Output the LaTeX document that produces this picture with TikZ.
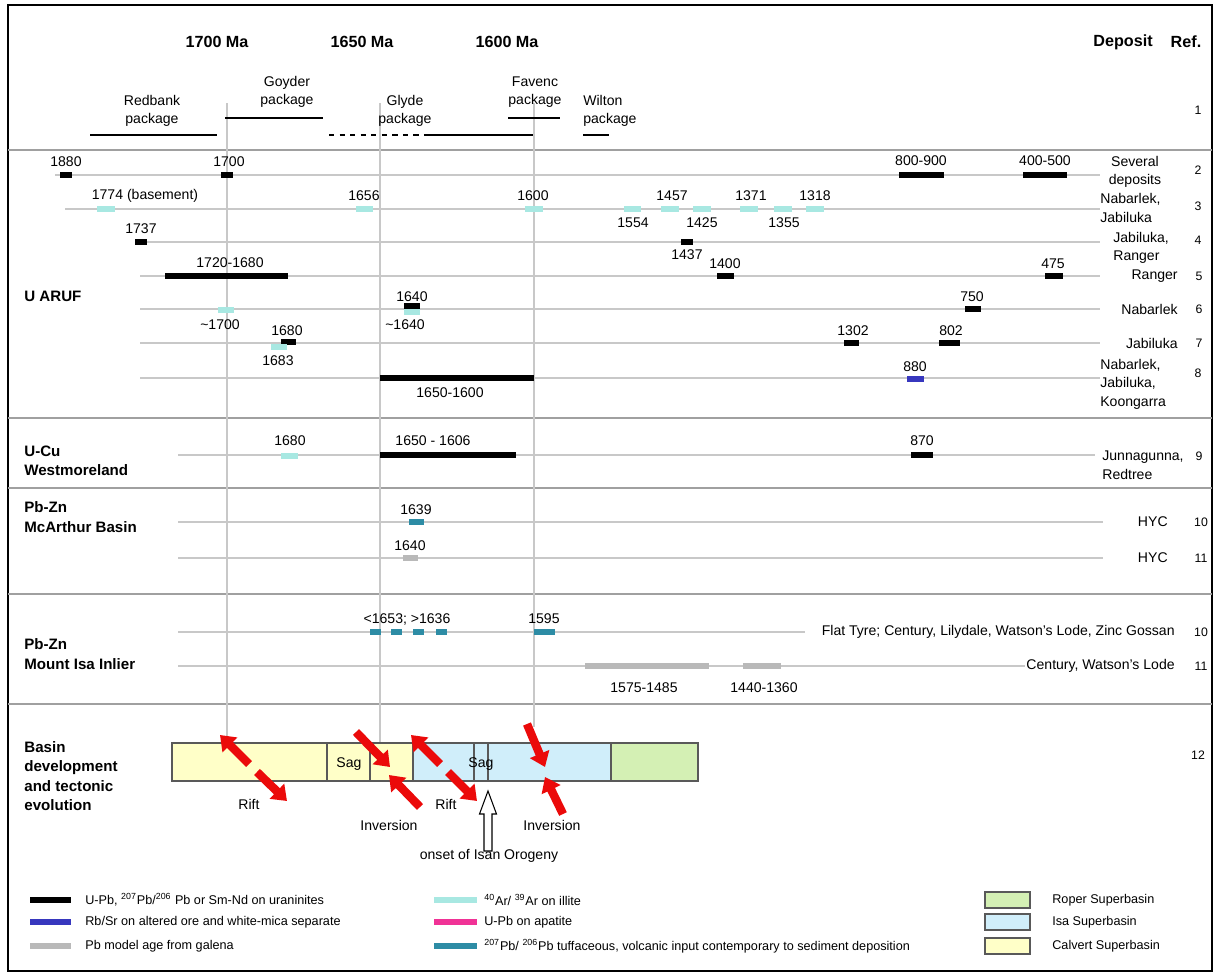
\documentclass[tikz,border=0pt]{standalone}
\usepackage{fontspec}
\setmainfont{Liberation Sans}
\usepackage{tikz}
\usetikzlibrary{arrows.meta}

\definecolor{illitecyan}{RGB}{168, 232, 226}
\definecolor{rbsrblue}{RGB}{55, 55, 190}
\definecolor{galenagray}{RGB}{185, 185, 185}
\definecolor{apatitepink}{RGB}{240, 50, 150}
\definecolor{tuffteal}{RGB}{45, 140, 165}
\definecolor{calvertyellow}{RGB}{255, 255, 200}
\definecolor{isablue}{RGB}{208, 238, 250}
\definecolor{ropergreen}{RGB}{212, 240, 180}
\definecolor{arrowred}{RGB}{235, 10, 10}
\definecolor{gridgray}{RGB}{200, 200, 200}
\definecolor{sepgray}{RGB}{160, 160, 160}

\newcommand{\chartlab}{\fontsize{8}{10.6}\selectfont}
\newcommand{\charthead}{\bfseries\fontsize{9.2}{11}\selectfont}
\newcommand{\chartsect}{\bfseries\fontsize{8.6}{11}\selectfont}
\newcommand{\chartref}{\fontsize{7}{8}\selectfont}
\newcommand{\chartleg}{\fontsize{7.2}{8.6}\selectfont}

\tikzset{
  agebar/.style={line width=3.3pt},
  rowline/.style={draw=gridgray, line width=0.6pt},
  sepline/.style={draw=sepgray, line width=1.4pt},
  timeline/.style={draw=gridgray, line width=0.6pt},
  pkgline/.style={draw=black, line width=1.1pt},
  datelab/.style={font=\chartlab, inner sep=0pt},
  headlab/.style={font=\charthead, inner sep=0pt},
  sectlab/.style={font=\chartsect, inner sep=0pt, anchor=west, align=left},
  reflab/.style={font=\chartref, inner sep=0pt},
  leglab/.style={font=\chartleg, inner sep=0pt, anchor=west},
  redarrow/.style={draw=arrowred, line width=4.8pt, -{Triangle[width=11.5pt,length=8pt]}},
  basinbox/.style={draw=black!65, line width=0.6pt},
}

\begin{document}
\begin{tikzpicture}[x=0.02cm, y=-0.02cm]
  \useasboundingbox (0,0) rectangle (1215,974);

  % Frame and section separators
  \draw[line width=1.1pt] (8,5) rectangle (1212,971);
  \draw[sepline] (8,150) -- (1212,150);
  \draw[sepline] (8,418) -- (1212,418);
  \draw[sepline] (8,488) -- (1212,488);
  \draw[sepline] (8,594) -- (1212,594);
  \draw[sepline] (8,704) -- (1212,704);

  % Time lines
  \draw[timeline] (227,103) -- (227,737);
  \draw[timeline] (380,103) -- (380,744);
  \draw[timeline] (534,103) -- (534,727);

  % Header
  \node[headlab] (ma1700) at (217,42) {1700 Ma};
  \node[headlab] (ma1650) at (362,42) {1650 Ma};
  \node[headlab] (ma1600) at (507,42) {1600 Ma};
  \node[headlab] (deposit) at (1123,42) {Deposit};
  \node[headlab] (ref) at (1186,42) {Ref.};

  % Packages
  \node[datelab, align=center] (redbank) at (152,111) {Redbank\\package};
  \draw[pkgline] (90,135) -- (217,135);
  \node[datelab, align=center] (goyder) at (287,92) {Goyder\\package};
  \draw[pkgline] (225,118) -- (323,118);
  \node[datelab, align=center] (glyde) at (405,111) {Glyde\\package};
  \draw[pkgline, dashed] (329,135) -- (425,135);
  \draw[pkgline] (425,135) -- (533,135);
  \node[datelab, align=center] (favenc) at (535,92) {Favenc\\package};
  \draw[pkgline] (508,118) -- (560,118);
  \node[datelab, align=left, anchor=west] (wilton) at (583,111) {Wilton\\package};
  \draw[pkgline] (583,135) -- (609,135);
  \node[reflab] (ref1) at (1198,110) {1};

  % U ARUF
  \node[sectlab] (uaruf) at (24,296) {U ARUF};

  % Row 2
  \draw[rowline] (55,175) -- (1100,175);
  \draw[agebar] (60,175) -- (72,175);
  \draw[agebar] (221,175) -- (233,175);
  \draw[agebar] (899,175) -- (944,175);
  \draw[agebar] (1023,175) -- (1067,175);
  \node[datelab] (d1880) at (66,162) {1880};
  \node[datelab] (d1700a) at (229,162) {1700};
  \node[datelab] (d800) at (921,161) {800-900};
  \node[datelab] (d400) at (1045,161) {400-500};
  \node[datelab, align=center] (several) at (1135,172) {Several\\deposits};
  \node[reflab] (ref2) at (1198,170) {2};

  % Row 3
  \draw[rowline] (65,209) -- (1100,209);
  \draw[agebar, illitecyan] (97,209) -- (115,209);
  \draw[agebar, illitecyan] (356,209) -- (373,209);
  \draw[agebar, illitecyan] (525,209) -- (543,209);
  \draw[agebar, illitecyan] (624,209) -- (641,209);
  \draw[agebar, illitecyan] (661,209) -- (679,209);
  \draw[agebar, illitecyan] (693,209) -- (711,209);
  \draw[agebar, illitecyan] (740,209) -- (758,209);
  \draw[agebar, illitecyan] (774,209) -- (792,209);
  \draw[agebar, illitecyan] (806,209) -- (824,209);
  \node[datelab] (d1774) at (145,196) {1774 (basement)};
  \node[datelab] (d1656) at (364,196) {1656};
  \node[datelab] (d1600) at (533,196) {1600};
  \node[datelab] (d1554) at (633,223) {1554};
  \node[datelab] (d1457) at (672,196) {1457};
  \node[datelab] (d1425) at (702,223) {1425};
  \node[datelab] (d1371) at (751,196) {1371};
  \node[datelab] (d1355) at (784,223) {1355};
  \node[datelab] (d1318) at (815,196) {1318};
  \node[datelab, align=left, anchor=west] (nabjab) at (1100,208) {Nabarlek,\\Jabiluka};
  \node[reflab] (ref3) at (1198,206) {3};

  % Row 4
  \draw[rowline] (135,242) -- (1100,242);
  \draw[agebar] (135,242) -- (147,242);
  \draw[agebar] (681,242) -- (693,242);
  \node[datelab] (d1737) at (141,229) {1737};
  \node[datelab] (d1437) at (687,255) {1437};
  \node[datelab, align=left, anchor=west] (jabran) at (1113,248) {Jabiluka,\\Ranger};
  \node[reflab] (ref4) at (1198,240) {4};

  % Row 5
  \draw[rowline] (140,276) -- (1100,276);
  \draw[agebar] (165,276) -- (288,276);
  \draw[agebar] (717,276) -- (734,276);
  \draw[agebar] (1045,276) -- (1063,276);
  \node[datelab] (d1720) at (230,263) {1720-1680};
  \node[datelab] (d1400) at (725,264) {1400};
  \node[datelab] (d475) at (1053,264) {475};
  \node[datelab, anchor=east] (ranger) at (1178,276) {Ranger};
  \node[reflab] (ref5) at (1199,276) {5};

  % Row 6
  \draw[rowline] (140,309) -- (1100,309);
  \draw[agebar, illitecyan] (218,310) -- (234,310);
  \draw[agebar] (404,306) -- (420,306);
  \draw[agebar, illitecyan] (404,312) -- (420,312);
  \draw[agebar] (965,309) -- (981,309);
  \node[datelab] (d1700b) at (220,325) {\textasciitilde1700};
  \node[datelab] (d1640a) at (412,297) {1640};
  \node[datelab] (d1640b) at (405,325) {\textasciitilde1640};
  \node[datelab] (d750) at (972,297) {750};
  \node[datelab, anchor=east] (nab6) at (1178,309) {Nabarlek};
  \node[reflab] (ref6) at (1199,309) {6};

  % Row 7
  \draw[rowline] (140,343) -- (1100,343);
  \draw[agebar] (281,342) -- (296,342);
  \draw[agebar, illitecyan] (271,347) -- (287,347);
  \draw[agebar] (844,343) -- (859,343);
  \draw[agebar] (939,343) -- (960,343);
  \node[datelab] (d1680a) at (287,331) {1680};
  \node[datelab] (d1683) at (278,361) {1683};
  \node[datelab] (d1302) at (853,331) {1302};
  \node[datelab] (d802) at (951,331) {802};
  \node[datelab, anchor=east] (jab7) at (1178,343) {Jabiluka};
  \node[reflab] (ref7) at (1199,343) {7};

  % Row 8
  \draw[rowline] (140,378) -- (1100,378);
  \draw[agebar] (380,378) -- (534,378);
  \draw[agebar, rbsrblue] (907,379) -- (924,379);
  \node[datelab] (d1650) at (450,393) {1650-1600};
  \node[datelab] (d880) at (915,367) {880};
  \node[datelab, align=left, anchor=west] (koong) at (1100,384) {Nabarlek,\\Jabiluka,\\Koongarra};
  \node[reflab] (ref8) at (1198,373) {8};

  % U-Cu Westmoreland
  \node[sectlab] (ucu) at (24,461) {U-Cu\\Westmoreland};
  \draw[rowline] (178,455) -- (1095,455);
  \draw[agebar, illitecyan] (281,456) -- (298,456);
  \draw[agebar] (380,455) -- (516,455);
  \draw[agebar] (911,455) -- (933,455);
  \node[datelab] (d1680b) at (290,441) {1680};
  \node[datelab] (d1606) at (433,441) {1650 - 1606};
  \node[datelab] (d870) at (922,441) {870};
  \node[datelab, align=left, anchor=west] (junna) at (1102,465) {Junnagunna,\\Redtree};
  \node[reflab] (ref9) at (1199,456) {9};

  % Pb-Zn McArthur Basin
  \node[sectlab] (mcarthur) at (24,517) {Pb-Zn\\McArthur Basin};
  \draw[rowline] (178,522) -- (1103,522);
  \draw[rowline] (178,558) -- (1103,558);
  \draw[agebar, tuffteal] (409,522) -- (424,522);
  \draw[agebar, galenagray] (403,558) -- (418,558);
  \node[datelab] (d1639) at (416,510) {1639};
  \node[datelab] (d1640c) at (410,546) {1640};
  \node[datelab, anchor=east] (hyc10) at (1168,522) {HYC};
  \node[reflab] (ref10a) at (1201,522) {10};
  \node[datelab, anchor=east] (hyc11) at (1168,558) {HYC};
  \node[reflab] (ref11a) at (1201,558) {11};

  % Pb-Zn Mount Isa Inlier
  \node[sectlab] (mtisa) at (24,654) {Pb-Zn\\Mount Isa Inlier};
  \draw[rowline] (178,632) -- (805,632);
  \draw[rowline] (178,666) -- (1025,666);
  \draw[agebar, tuffteal] (370,632) -- (381,632);
  \draw[agebar, tuffteal] (391,632) -- (402,632);
  \draw[agebar, tuffteal] (413,632) -- (424,632);
  \draw[agebar, tuffteal] (436,632) -- (447,632);
  \draw[agebar, tuffteal] (534,632) -- (555,632);
  \draw[agebar, galenagray] (585,666) -- (709,666);
  \draw[agebar, galenagray] (743,666) -- (781,666);
  \node[datelab] (d1653) at (407,619) {<1653; >1636};
  \node[datelab] (d1595) at (544,619) {1595};
  \node[datelab] (d1575) at (644,688) {1575-1485};
  \node[datelab] (d1440) at (764,688) {1440-1360};
  \node[datelab, anchor=east] (flattyre) at (1175,632) {Flat Tyre; Century, Lilydale, Watson's Lode, Zinc Gossan};
  \node[reflab] (ref10b) at (1201,632) {10};
  \node[datelab, anchor=east] (century) at (1175,666) {Century, Watson's Lode};
  \node[reflab] (ref11b) at (1201,666) {11};

  % Basin development
  \node[sectlab] (basin) at (24,776) {Basin\\development\\and tectonic\\evolution};
  \draw[basinbox, fill=calvertyellow] (172,743) rectangle (413,781);
  \draw[basinbox] (327,743) -- (327,781);
  \draw[basinbox] (370,743) -- (370,781);
  \draw[basinbox, fill=isablue] (413,743) rectangle (611,781);
  \draw[basinbox] (474,743) -- (474,781);
  \draw[basinbox] (488,743) -- (488,781);
  \draw[basinbox, fill=ropergreen] (611,743) rectangle (698,781);
  \node[datelab] (sag1) at (349,764) {Sag};
  \node[datelab] (sag2) at (481,764) {Sag};
  \node[reflab] (ref12) at (1198,755) {12};

  % Arrows
  \draw[redarrow] (249,764) -- (220,735);
  \draw[redarrow] (257,772) -- (287,801);
  \draw[redarrow] (356,732) -- (390,767);
  \draw[redarrow] (420,807) -- (389,775);
  \draw[redarrow] (440,764) -- (411,735);
  \draw[redarrow] (448,772) -- (477,801);
  \draw[redarrow] (527,724) -- (545,767);
  \draw[redarrow] (563,814) -- (545,777);
  \draw[fill=white, line width=0.6pt] (488,791) -- (479.5,814) -- (484,814) -- (484,851)
    -- (492,851) -- (492,814) -- (496.5,814) -- cycle;
  \node[datelab] (rift1) at (249,804) {Rift};
  \node[datelab] (rift2) at (446,804) {Rift};
  \node[datelab] (inv1) at (389,825) {Inversion};
  \node[datelab] (inv2) at (552,825) {Inversion};
  \node[datelab] (isan) at (489,856) {onset of Isan Orogeny};

  % Legend
  \draw[agebar] (30,900) -- (71,900);
  \node[leglab] (legupb) at (85,900) {U-Pb, \textsuperscript{207}Pb/\textsuperscript{206} Pb or Sm-Nd on uraninites};
  \draw[agebar, rbsrblue] (30,922) -- (71,922);
  \node[leglab] (legrbsr) at (85,922) {Rb/Sr on altered ore and white-mica separate};
  \draw[agebar, galenagray] (30,946) -- (71,946);
  \node[leglab] (leggal) at (85,946) {Pb model age from galena};
  \draw[agebar, illitecyan] (434,900) -- (477,900);
  \node[leglab] (legar) at (484,900) {\textsuperscript{40}Ar/ \textsuperscript{39}Ar on illite};
  \draw[agebar, apatitepink] (434,922) -- (477,922);
  \node[leglab] (legap) at (484,922) {U-Pb on apatite};
  \draw[agebar, tuffteal] (434,946) -- (477,946);
  \node[leglab] (legtuff) at (484,946) {\textsuperscript{207}Pb/ \textsuperscript{206}Pb tuffaceous, volcanic input contemporary to sediment deposition};
  \draw[basinbox, fill=ropergreen] (985,892) rectangle (1030,908);
  \node[leglab] (legroper) at (1052,900) {Roper Superbasin};
  \draw[basinbox, fill=isablue] (985,914) rectangle (1030,930);
  \node[leglab] (legisa) at (1052,922) {Isa Superbasin};
  \draw[basinbox, fill=calvertyellow] (985,938) rectangle (1030,954);
  \node[leglab] (legcalv) at (1052,946) {Calvert Superbasin};
\end{tikzpicture}
\end{document}
